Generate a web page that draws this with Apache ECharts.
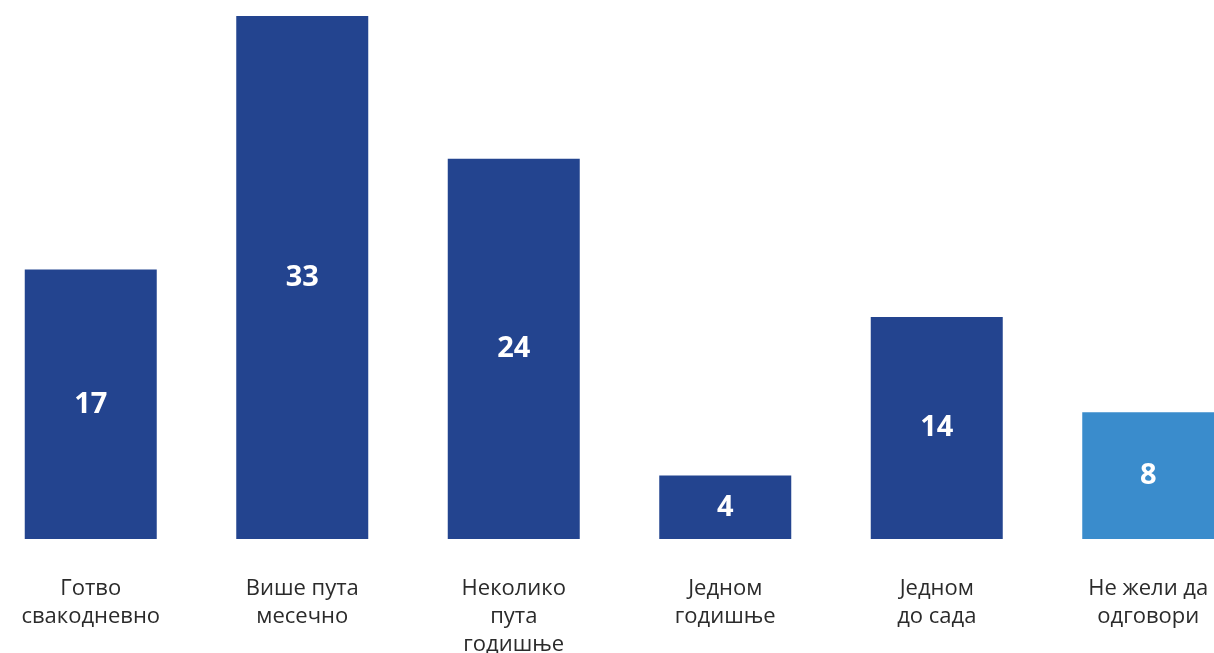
<!DOCTYPE html>
<html><head><meta charset="utf-8">
<script src="https://cdn.jsdelivr.net/npm/echarts@6/dist/echarts.min.js"></script>
<style>html,body{margin:0;padding:0;background:#fff}#c{width:1214px;height:653px}</style>
</head><body><div id="c"></div>
<script>
const categories = ['Готво\nсвакодневно','Више пута\nмесечно','Неколико\nпута\nгодишње','Једном\nгодишње','Једном\nдо сада','Не жели да\nодговори'];
const values = [17, 33, 24, 4, 14, 8];
const colors = ['#23448f','#23448f','#23448f','#23448f','#23448f','#3a8ccc'];
const chart = echarts.init(document.getElementById('c'));
chart.setOption({
  animation: false,
  grid: { left: -15, width: 1269, top: 16, bottom: 114, containLabel: false, outerBoundsMode: 'none' },
  xAxis: {
    type: 'category', data: categories,
    axisLine: { show: false }, axisTick: { show: false },
    axisLabel: { margin: 36, color: '#2b2b2b', fontFamily: 'Open Sans', fontSize: 22, lineHeight: 28, interval: 0, verticalAlign: 'top' }
  },
  yAxis: { type: 'value', min: 0, max: 33, show: false, splitLine: { show: false } },
  series: [{
    type: 'bar', barWidth: 132,
    data: values.map((v, i) => ({ value: v, itemStyle: { color: colors[i] } })),
    label: { show: true, position: 'inside', color: '#fff', fontFamily: 'Open Sans', fontWeight: 'bold', fontSize: 29 }
  }]
});
</script></body></html>
